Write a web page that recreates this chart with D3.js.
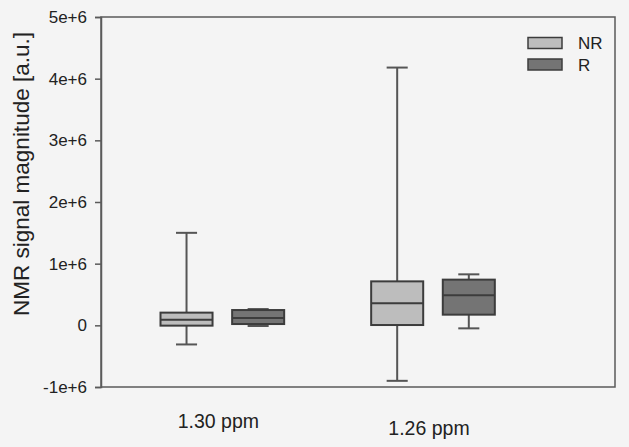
<!DOCTYPE html>
<html>
<head>
<script src="https://cdn.jsdelivr.net/npm/d3@7"></script>
<style>
  body {margin: 0; background: #f4f4f4;}
  text {font-family: "Liberation Sans", Arial, sans-serif; fill: #222;}
</style>
</head>
<body>
<svg width="629" height="447"></svg>
<script>
// chart values (units of 1e6 a.u.)
var groups = ["1.30 ppm", "1.26 ppm"];
var series = ["NR", "R"];
var yTicks = [-1, 0, 1, 2, 3, 4, 5];
var yTickLabels = ["-1e+6", "0", "1e+6", "2e+6", "3e+6", "4e+6", "5e+6"];
// [lower whisker, q1, median, q3, upper whisker] per group
var nrStats = [[-0.31, -0.005, 0.092, 0.206, 1.50], [-0.90, 0.005, 0.357, 0.713, 4.18]];
var rStats  = [[-0.011, 0.021, 0.118, 0.248, 0.264], [-0.049, 0.173, 0.486, 0.741, 0.827]];

var colors = {NR: "#bdbdbd", R: "#747474"};
var svg = d3.select("svg");

var x = d3.scaleLinear().domain([0.424, 2.864]).range([101, 615]);
var y = d3.scaleLinear().domain([-1, 5]).range([387, 17]);

// frame
svg.append("rect").attr("x", 101).attr("y", 17).attr("width", 514).attr("height", 370)
  .attr("fill", "none").attr("stroke", "#5a5a5a").attr("stroke-width", 1.5);

var yAxis = d3.axisLeft(y).tickValues(yTicks).tickSize(6)
  .tickFormat(function(d, i){ return yTickLabels[i]; });
var ga = svg.append("g").attr("transform", "translate(101,0)").call(yAxis);
ga.select(".domain").attr("stroke", "#5a5a5a").attr("stroke-width", 1.5);
ga.selectAll(".tick line").attr("stroke", "#5a5a5a").attr("stroke-width", 1.5);
ga.selectAll(".tick text").attr("x", -14).attr("font-size", 17).attr("fill", "#222")
  .attr("font-family", "Liberation Sans, Arial, sans-serif");

svg.append("text").attr("transform", "translate(29,174) rotate(-90)")
  .attr("text-anchor", "middle").attr("font-size", 22.5).text("NMR signal magnitude [a.u.]");

// group labels
var labelY = [428, 435];
groups.forEach(function(g, i){
  svg.append("text").attr("x", x(i + 1) - 4).attr("y", labelY[i])
    .attr("text-anchor", "middle").attr("font-size", 19.5).text(g);
});

var off = 0.17, bw = 0.247, cw = 0.1;
function drawBox(stats, s, shift){
  stats.forEach(function(d, i){
    var cx = x(i + 1 + shift);
    var g = svg.append("g");
    var half = (x(bw) - x(0)) / 2, ch = (x(cw) - x(0)) / 2;
    g.append("line").attr("x1", cx).attr("x2", cx).attr("y1", y(d[0])).attr("y2", y(d[4]))
      .attr("stroke", "#555").attr("stroke-width", 2);
    [d[0], d[4]].forEach(function(v){
      g.append("line").attr("x1", cx - ch).attr("x2", cx + ch).attr("y1", y(v)).attr("y2", y(v))
        .attr("stroke", "#555").attr("stroke-width", 2);
    });
    g.append("rect").attr("x", cx - half).attr("width", 2 * half)
      .attr("y", y(d[3])).attr("height", y(d[1]) - y(d[3]))
      .attr("fill", colors[s]).attr("stroke", "#3c3c3c").attr("stroke-width", 2);
    g.append("line").attr("x1", cx - half).attr("x2", cx + half).attr("y1", y(d[2])).attr("y2", y(d[2]))
      .attr("stroke", "#3c3c3c").attr("stroke-width", 2);
  });
}
drawBox(nrStats, "NR", -off);
drawBox(rStats, "R", off);

// legend
series.forEach(function(s, i){
  svg.append("rect").attr("x", 528).attr("y", 37.5 + i * 21.5).attr("width", 34).attr("height", 11)
    .attr("fill", colors[s]).attr("stroke", "#3c3c3c").attr("stroke-width", 1.5);
  svg.append("text").attr("x", 578).attr("y", 49 + i * 21.5).attr("font-size", 17).text(s);
});
</script>
</body>
</html>
